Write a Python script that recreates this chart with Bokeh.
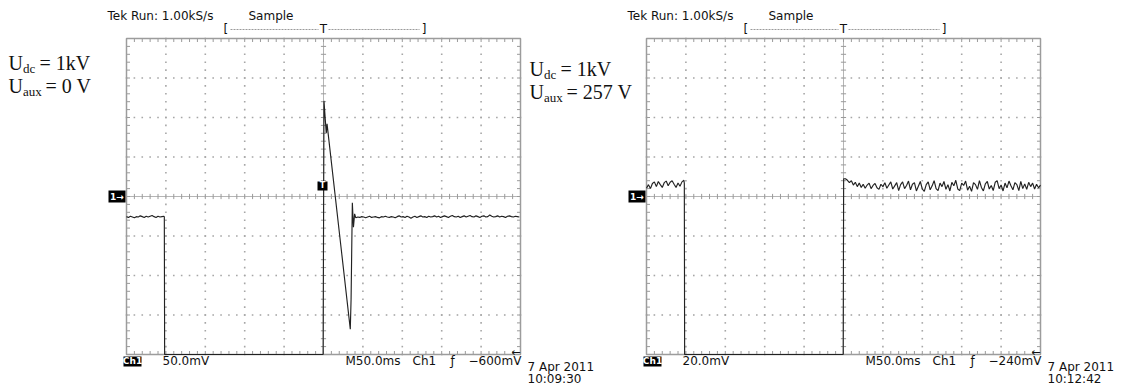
import numpy as np
from bokeh.plotting import figure
from bokeh.models import Range1d
from bokeh.embed import file_html
from bokeh.resources import INLINE
from bokeh.core.properties import value

TIME_PER_DIV_MS = 50.0
N_XDIV, N_YDIV = 10, 8
DT_MS = 2.5
LEFT_MV_PER_DIV = 50.0
RIGHT_MV_PER_DIV = 20.0

# left screen (U_aux = 0 V), Ch1 in mV
left_pre_start = -250.0
left_pre_mv = [-25.5, -26.5, -25.0, -26.0, -27.0, -25.5, -26.0, -24.5, -25.5, -26.5,
               -25.0, -26.0, -25.0, -24.0, -25.5, -26.5, -25.0, -26.0, -25.5, -25.0]
left_event_t = [-202.0, -201.6, -0.5, 0.6, 3.5, 4.5, 34.0, 35.0, 36.6, 38.0, 39.5]
left_event_mv = [-26.0, -200.0, -200.0, 121.0, 80.0, 92.0, -168.0, -130.0, -8.0, -39.0, -22.0]
left_post_start = 41.0
left_post_mv = [-27.0, -26.0, -26.5, -25.5, -26.0, -27.0, -26.0, -25.0, -26.5, -26.0,
                -25.5, -26.5, -27.0, -25.5, -26.0, -25.0, -26.0, -26.5, -25.5, -26.0,
                -27.0, -25.5, -24.5, -26.0, -25.5, -26.5, -25.0, -26.0, -27.5, -26.0,
                -25.0, -26.5, -25.5, -24.5, -26.0, -25.5, -26.5, -25.0, -26.0, -25.5,
                -24.5, -26.0, -25.0, -26.5, -25.5, -24.5, -25.5, -26.5, -25.0, -24.0,
                -25.5, -26.0, -25.0, -26.5, -25.5, -24.5, -26.0, -25.0, -24.0, -25.5,
                -26.0, -24.5, -25.5, -26.5, -25.0, -24.5, -26.0, -25.5, -23.5, -25.0,
                -26.0, -25.5, -24.5, -26.0, -25.0, -25.5, -26.5, -25.0, -24.5, -25.5,
                -26.0, -25.0, -25.5, -26.0]

# right screen (U_aux = 257 V), Ch1 in mV
right_pre_start = -250.0
right_pre_mv = [4.2, 6.0, 4.0, 6.6, 7.4, 5.0, 7.6, 6.0, 4.6, 7.0,
                7.8, 5.4, 7.2, 8.0, 6.2, 4.6, 6.8, 5.2, 7.4, 8.2]
right_event_t = [-202.0, -201.6, -0.4, 0.2]
right_event_mv = [6.6, -80.0, -80.0, 9.0]
right_post_start = 2.5
right_post_mv = [9.0, 8.2, 7.0, 8.0, 5.8, 7.2, 5.0, 6.8, 4.6, 6.2,
                 4.2, 5.8, 6.8, 4.0, 5.6, 6.6, 4.4, 3.6, 6.2, 5.0,
                 7.0, 4.2, 5.8, 7.4, 3.8, 5.4, 7.0, 3.0, 6.0, 7.4,
                 4.0, 5.6, 7.8, 3.4, 6.2, 7.0, 2.8, 5.2, 7.6, 3.8,
                 2.6, 6.0, 7.4, 3.4, 5.4, 8.0, 4.0, 3.0, 6.8, 5.0,
                 7.6, 3.6, 6.0, 2.8, 7.2, 5.4, 8.2, 3.8, 3.0, 6.8,
                 5.6, 7.8, 3.2, 5.2, 2.6, 7.0, 6.0, 3.6, 8.0, 4.6,
                 2.8, 6.4, 7.6, 3.8, 5.6, 3.0, 7.2, 8.0, 4.0, 5.8,
                 2.8, 6.8, 4.4, 7.8, 5.4, 3.4, 7.0, 6.0, 3.0, 7.6,
                 4.0, 6.4, 3.6, 7.2, 5.0, 6.8, 3.8, 6.2, 4.4, 5.8]

left_info = dict(header="Tek Run: 1.00kS/s", mode="Sample", scale="50.0mV",
                 timebase="M50.0ms", src="Ch1", level="\u2212600mV",
                 date="7 Apr 2011", clock="10:09:30", udc="1kV", uaux="0 V")
right_info = dict(header="Tek Run: 1.00kS/s", mode="Sample", scale="20.0mV",
                  timebase="M50.0ms", src="Ch1", level="\u2212240mV",
                  date="7 Apr 2011", clock="10:12:42", udc="1kV", uaux="257 V")

# ---------------- layout ----------------
W, H = 1122, 385
FRAME_TOP, FRAME_BOTTOM = 38, 354
FRAME_W = 394
L_LEFT, R_LEFT = 126, 646

half_t = N_XDIV * TIME_PER_DIV_MS / 2
half_d = N_YDIV / 2
px_per_ms = FRAME_W / (N_XDIV * TIME_PER_DIV_MS)
px_per_div = (FRAME_BOTTOM - FRAME_TOP) / N_YDIV


def ms_range(frame_left):
    return Range1d(-half_t - frame_left / px_per_ms,
                   half_t + (W - frame_left - FRAME_W) / px_per_ms)


div_lo = -half_d - (H - FRAME_BOTTOM) / px_per_div
div_hi = half_d + FRAME_TOP / px_per_div

p = figure(width=W, height=H, output_backend="svg", toolbar_location=None,
           x_range=Range1d(0, W), y_range=Range1d(H, 0),
           x_axis_location=None, y_axis_location=None, title_location=None,
           min_border=0, min_border_left=0, min_border_right=0,
           min_border_top=0, min_border_bottom=0)
p.outline_line_color = None
p.grid.visible = False
p.background_fill_color = "white"
p.border_fill_color = "white"
p.extra_x_ranges = {"L": ms_range(L_LEFT), "R": ms_range(R_LEFT)}
p.extra_y_ranges = {"div": Range1d(div_lo, div_hi),
                    "mvL": Range1d(div_lo * LEFT_MV_PER_DIV, div_hi * LEFT_MV_PER_DIV),
                    "mvR": Range1d(div_lo * RIGHT_MV_PER_DIV, div_hi * RIGHT_MV_PER_DIV)}

SANS = value("DejaVu Sans")
SERIF = value("Liberation Serif")
TXT = "#111111"
BASE_FIX = 0.38   # renderer puts the alphabetic baseline this many em lower


def txt(x, y, s, size=12, font=SANS, color=TXT, align="left", style="normal"):
    p.text(x=[x], y=[y - BASE_FIX * size], text=[s], text_font=font,
           text_font_size=f"{size}px", text_color=color, text_align=align,
           text_baseline="alphabetic", text_font_style=style)


def graticule(rn):
    kw = dict(x_range_name=rn, y_range_name="div")
    minor_t = np.arange(-half_t, half_t + 0.1, TIME_PER_DIV_MS / 5)
    minor_d = np.arange(-half_d, half_d + 0.01, 0.2)
    gx, gy = [], []
    for d in range(-3, 4):
        if d == 0:
            continue
        gx += list(minor_t)
        gy += [d] * len(minor_t)
    for k in range(-4, 5):
        if k == 0:
            continue
        gx += list(minor_d * 0 + k * TIME_PER_DIV_MS)
        gy += list(minor_d)
    p.scatter(gx, gy, marker="square", size=1.6, fill_color="#a6a6a6",
              line_color=None, **kw)
    p.segment(x0=[-half_t, 0], y0=[0, -half_d], x1=[half_t, 0], y1=[0, half_d],
              line_color="#b5b5b5", line_width=1, **kw)
    tl = 2.6 / px_per_div
    tt = 2.6 / px_per_ms
    el_d = 3.5 / px_per_div
    el_t = 3.5 / px_per_ms
    x0, y0, x1, y1 = [], [], [], []
    for t in minor_t:
        x0 += [t, t, t]; x1 += [t, t, t]
        y0 += [-tl, half_d, -half_d]; y1 += [tl, half_d - el_d, -half_d + el_d]
    for d in minor_d:
        x0 += [-tt, -half_t, half_t]; x1 += [tt, -half_t + el_t, half_t - el_t]
        y0 += [d, d, d]; y1 += [d, d, d]
    p.segment(x0=x0, y0=y0, x1=x1, y1=y1, line_color="#9a9a9a", line_width=1, **kw)
    p.quad(left=[-half_t], right=[half_t], bottom=[-half_d], top=[half_d],
           fill_color=None, line_color="#9c9c9c", line_width=1.5, **kw)


def trace(rn, yn, pre_start, pre, ev_t, ev_mv, post_start, post):
    t = np.concatenate([pre_start + DT_MS * np.arange(len(pre)), ev_t,
                        post_start + DT_MS * np.arange(len(post))])
    v = np.concatenate([pre, ev_mv, post])
    p.line(t, v, line_color="#222222", line_width=1.15, x_range_name=rn, y_range_name=yn)


def box(l, r, t, b, s, size=9):
    p.quad(left=[l], right=[r], top=[t], bottom=[b], fill_color="black", line_color=None)
    txt((l + r) / 2, b - 2, s, size=size, color="white", align="center", style="bold")


def panel_text(fl, info):
    cx = fl + FRAME_W / 2
    txt(fl - 19, 20, info["header"])
    txt(fl + 122, 20, info["mode"])
    txt(fl + 97, 33, "[")
    txt(cx, 33, "T", align="center")
    txt(fl + 300, 33, "]", align="right")
    p.segment(x0=[fl + 104, cx + 5], y0=[29, 29], x1=[cx - 5, fl + 293], y1=[29, 29],
              line_color="#9a9a9a", line_width=1, line_dash="2 1")
    box(fl - 3, fl + 15, 356, 366, "Ch1")
    txt(fl + 36, 365, info["scale"])
    txt(fl + 219, 365, info["timebase"])
    txt(fl + 286, 365, info["src"])
    txt(fl + 324, 365, "\u0192")
    txt(fl + 342, 365, info["level"])
    txt(fl + 401, 371, info["date"])
    txt(fl + 401, 383, info["clock"])
    box(fl - 18, fl - 1, 190, 202, "1\u2192")
    txt(fl + FRAME_W, 356, "\u2190", size=11, align="right")


def u_labels(x0, b1, b2, udc, uaux):
    c = "#111111"
    txt(x0, b1, "U", size=20, font=SERIF, color=c)
    txt(x0 + 14.5, b1 + 3, "dc", size=13, font=SERIF, color=c)
    txt(x0 + 31, b1, "= " + udc, size=20, font=SERIF, color=c)
    txt(x0, b2, "U", size=20, font=SERIF, color=c)
    txt(x0 + 14.5, b2 + 3, "aux", size=13, font=SERIF, color=c)
    txt(x0 + 37, b2, "= " + uaux, size=20, font=SERIF, color=c)


graticule("L")
graticule("R")
trace("L", "mvL", left_pre_start, left_pre_mv, left_event_t, left_event_mv,
      left_post_start, left_post_mv)
trace("R", "mvR", right_pre_start, right_pre_mv, right_event_t, right_event_mv,
      right_post_start, right_post_mv)
panel_text(L_LEFT, left_info)
panel_text(R_LEFT, right_info)
box(L_LEFT + FRAME_W / 2 - 6, L_LEFT + FRAME_W / 2 + 4, 181, 190, "T", size=8)
u_labels(8, 70, 93, left_info["udc"], left_info["uaux"])
u_labels(529, 76, 99, right_info["udc"], right_info["uaux"])

open("out.html", "w").write(file_html(p, INLINE))
